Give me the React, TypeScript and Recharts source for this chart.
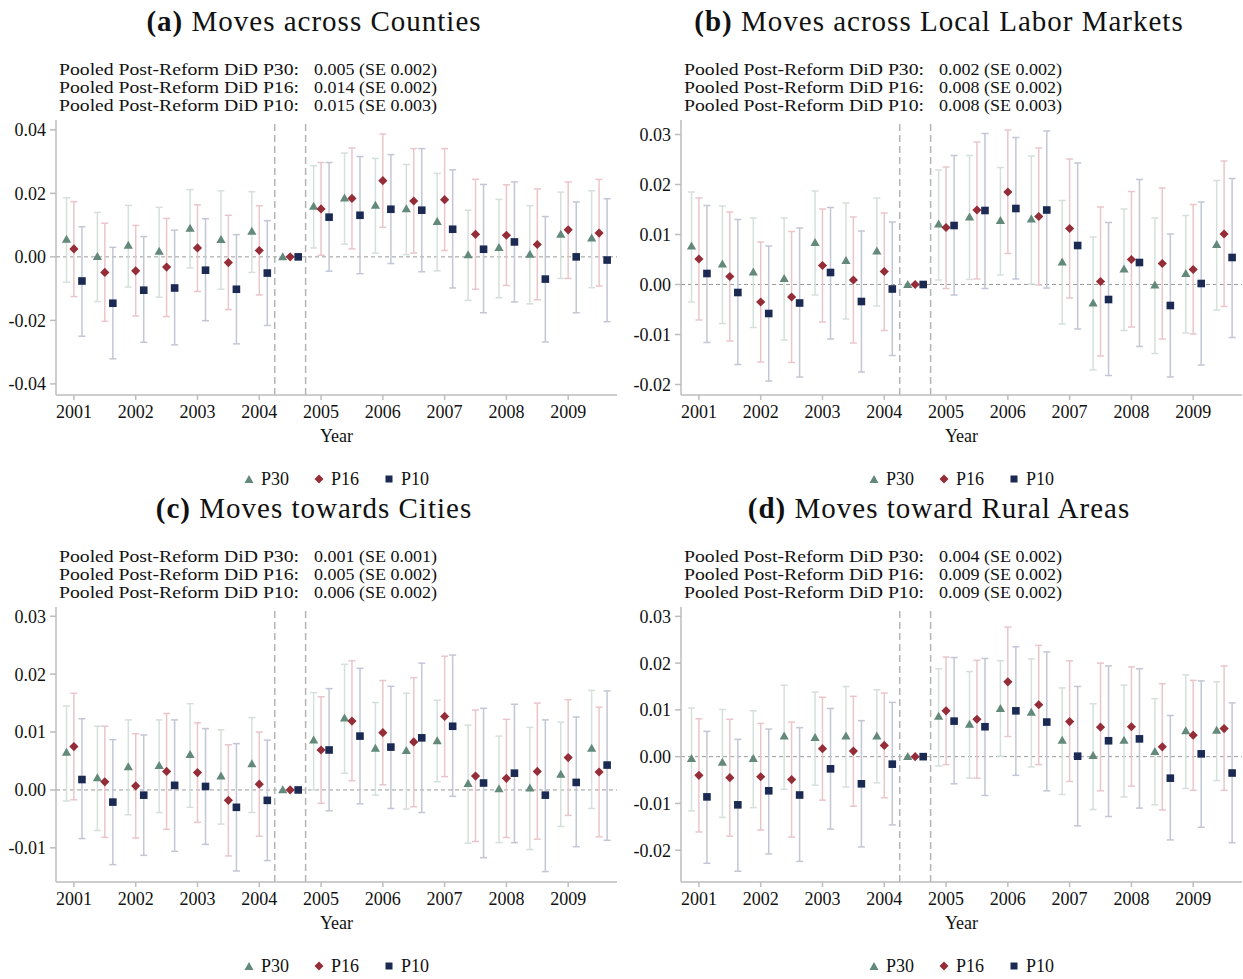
import React from "react";
import {
  ComposedChart,
  XAxis,
  YAxis,
  Scatter,
  ErrorBar,
  ReferenceLine,
} from "recharts";

const periods = [
  2001, 2001.5, 2002, 2002.5, 2003, 2003.5, 2004, 2004.5, 2005, 2005.5, 2006,
  2006.5, 2007, 2007.5, 2008, 2008.5, 2009, 2009.5,
];
const years = [2001, 2002, 2003, 2004, 2005, 2006, 2007, 2008, 2009];

// (a) counties
const countiesP30 = [0.0055, 0.0001, 0.0036, 0.0017, 0.009, 0.0054, 0.008, 0, 0.0159, 0.0185, 0.0162, 0.0151, 0.0111, 0.0006, 0.0029, 0.0008, 0.0071, 0.0059];
const countiesP30Lo = [-0.008, -0.0141, -0.0095, -0.0127, -0.0035, -0.0102, -0.0049, 0, 0.0028, 0.004, 0.0012, 0.0007, -0.0044, -0.0137, -0.0129, -0.0148, -0.0068, -0.0097];
const countiesP30Hi = [0.0186, 0.014, 0.0162, 0.0156, 0.0212, 0.0208, 0.0205, 0, 0.0287, 0.0327, 0.031, 0.0291, 0.0263, 0.0147, 0.0181, 0.0161, 0.0204, 0.0208];
const countiesP16 = [0.0025, -0.0049, -0.0044, -0.0032, 0.0028, -0.0018, 0.002, 0, 0.0151, 0.0184, 0.024, 0.0176, 0.018, 0.0071, 0.0068, 0.0039, 0.0085, 0.0075];
const countiesP16Lo = [-0.0125, -0.0203, -0.0186, -0.0188, -0.0109, -0.0166, -0.012, 0, 0.0005, 0.0025, 0.0093, 0.0012, 0.002, -0.0102, -0.009, -0.0135, -0.0068, -0.0092];
const countiesP16Hi = [0.0174, 0.0106, 0.0099, 0.0121, 0.0164, 0.0131, 0.0161, 0, 0.0297, 0.0343, 0.0387, 0.0341, 0.0341, 0.0244, 0.0227, 0.0214, 0.0236, 0.0244];
const countiesP10 = [-0.0076, -0.0146, -0.0105, -0.0098, -0.0042, -0.0102, -0.0051, 0, 0.0125, 0.0131, 0.015, 0.0147, 0.0087, 0.0024, 0.0047, -0.007, 0, -0.001];
const countiesP10Lo = [-0.025, -0.0321, -0.0269, -0.0277, -0.0201, -0.0274, -0.0216, 0, -0.0045, -0.0053, -0.0021, -0.0047, -0.0098, -0.0176, -0.0142, -0.0268, -0.0176, -0.0204];
const countiesP10Hi = [0.0095, 0.003, 0.0064, 0.0084, 0.012, 0.007, 0.0114, 0, 0.0297, 0.0316, 0.0322, 0.0341, 0.0274, 0.0228, 0.0236, 0.0127, 0.0173, 0.0183];

// (b) local labor markets
const llmP30 = [0.0077, 0.0041, 0.0025, 0.0012, 0.0084, 0.0048, 0.0067, 0, 0.0121, 0.0135, 0.0128, 0.0131, 0.0045, -0.0037, 0.0031, -0.0001, 0.0022, 0.008];
const llmP30Lo = [-0.0035, -0.0078, -0.0086, -0.0111, -0.0021, -0.0069, -0.0043, 0, 0.0009, 0.001, 0.0019, 0.0001, -0.0079, -0.0171, -0.0092, -0.0138, -0.0097, -0.0051];
const llmP30Hi = [0.0185, 0.0157, 0.0133, 0.0133, 0.0187, 0.0163, 0.0173, 0, 0.0229, 0.0258, 0.0234, 0.0257, 0.0168, 0.0095, 0.0151, 0.0133, 0.0138, 0.0208];
const llmP16 = [0.0051, 0.0016, -0.0035, -0.0025, 0.0038, 0.0009, 0.0026, 0, 0.0114, 0.0149, 0.0185, 0.0136, 0.0112, 0.0006, 0.005, 0.0042, 0.003, 0.0101];
const llmP16Lo = [-0.0071, -0.0113, -0.0155, -0.0156, -0.0075, -0.0117, -0.0092, 0, -0.0008, 0.0011, 0.0062, -0.0001, -0.0027, -0.0143, -0.0085, -0.0109, -0.0099, -0.0044];
const llmP16Hi = [0.0173, 0.0145, 0.0085, 0.0106, 0.0151, 0.0135, 0.0143, 0, 0.0235, 0.0285, 0.0309, 0.0273, 0.0251, 0.0155, 0.0186, 0.0193, 0.016, 0.0247];
const llmP10 = [0.0022, -0.0016, -0.0058, -0.0037, 0.0024, -0.0034, -0.0009, 0, 0.0118, 0.0148, 0.0152, 0.0149, 0.0078, -0.003, 0.0044, -0.0042, 0.0002, 0.0054];
const llmP10Lo = [-0.0116, -0.016, -0.0193, -0.0185, -0.0109, -0.0175, -0.0142, 0, -0.0021, -0.0008, 0.0011, -0.0007, -0.0089, -0.0182, -0.0124, -0.0185, -0.0161, -0.0106];
const llmP10Hi = [0.0158, 0.013, 0.0077, 0.0113, 0.0154, 0.0107, 0.0125, 0, 0.0258, 0.0302, 0.0294, 0.0307, 0.0243, 0.0124, 0.021, 0.0101, 0.0165, 0.0212];

// (c) towards cities
const citiesP30 = [0.0065, 0.0021, 0.004, 0.0042, 0.0061, 0.0024, 0.0045, 0, 0.0086, 0.0124, 0.0072, 0.0068, 0.0085, 0.0011, 0.0002, 0.0003, 0.0027, 0.0072];
const citiesP30Lo = [-0.0019, -0.007, -0.0043, -0.0039, -0.003, -0.0059, -0.0039, 0, 0, 0.0029, -0.0009, -0.0033, 0.0014, -0.0092, -0.0091, -0.0103, -0.0063, -0.0032];
const citiesP30Hi = [0.0145, 0.011, 0.0121, 0.0121, 0.0149, 0.0104, 0.0125, 0, 0.0168, 0.0217, 0.0151, 0.0167, 0.0155, 0.0112, 0.0093, 0.0108, 0.0117, 0.0172];
const citiesP16 = [0.0075, 0.0014, 0.0007, 0.0032, 0.003, -0.0018, 0.001, 0, 0.0069, 0.0119, 0.0099, 0.0083, 0.0127, 0.0024, 0.002, 0.0032, 0.0056, 0.0031];
const citiesP16Lo = [-0.0017, -0.0082, -0.0083, -0.0068, -0.0056, -0.0114, -0.008, 0, -0.0023, 0.0016, 0.0009, -0.0029, 0.0023, -0.0089, -0.0082, -0.0085, -0.0044, -0.0081];
const citiesP16Hi = [0.0167, 0.011, 0.0097, 0.0132, 0.0116, 0.0078, 0.01, 0, 0.0161, 0.0223, 0.0189, 0.0194, 0.0231, 0.0138, 0.0122, 0.015, 0.0156, 0.0143];
const citiesP10 = [0.0018, -0.0021, -0.0009, 0.0008, 0.0006, -0.003, -0.0018, 0, 0.0069, 0.0093, 0.0074, 0.009, 0.011, 0.0012, 0.0029, -0.0009, 0.0013, 0.0043];
const citiesP10Lo = [-0.0084, -0.0129, -0.0113, -0.0106, -0.0094, -0.014, -0.0122, 0, -0.0036, -0.0024, -0.0032, -0.0039, -0.0011, -0.0117, -0.0091, -0.0141, -0.0098, -0.0087];
const citiesP10Hi = [0.0123, 0.0087, 0.0095, 0.0121, 0.0106, 0.008, 0.0086, 0, 0.0175, 0.021, 0.0179, 0.0219, 0.0233, 0.0141, 0.0148, 0.0121, 0.0126, 0.0171];

// (d) toward rural areas
const ruralP30 = [-0.0004, -0.0012, -0.0004, 0.0044, 0.0041, 0.0044, 0.0044, 0, 0.0086, 0.0069, 0.0103, 0.0095, 0.0035, 0.0002, 0.0035, 0.0011, 0.0055, 0.0056];
const ruralP30Lo = [-0.0116, -0.013, -0.0109, -0.007, -0.0061, -0.0065, -0.0056, 0, -0.002, -0.0046, 0.0001, -0.0022, -0.0081, -0.0113, -0.0086, -0.0103, -0.0068, -0.0051];
const ruralP30Hi = [0.0104, 0.0101, 0.0098, 0.0153, 0.0138, 0.015, 0.0143, 0, 0.0188, 0.0182, 0.0205, 0.0209, 0.0147, 0.0113, 0.0153, 0.0124, 0.0175, 0.016];
const ruralP16 = [-0.004, -0.0045, -0.0043, -0.0049, 0.0017, 0.0012, 0.0024, 0, 0.0098, 0.008, 0.016, 0.0111, 0.0075, 0.0063, 0.0064, 0.0021, 0.0046, 0.006];
const ruralP16Lo = [-0.0161, -0.017, -0.0157, -0.0172, -0.0093, -0.0106, -0.0088, 0, -0.0017, -0.0046, 0.0043, -0.0017, -0.0053, -0.0073, -0.0063, -0.0114, -0.0072, -0.0072];
const ruralP16Hi = [0.0081, 0.008, 0.0071, 0.0074, 0.0127, 0.0129, 0.0136, 0, 0.0213, 0.0206, 0.0277, 0.0238, 0.0205, 0.02, 0.0192, 0.0156, 0.0163, 0.0194];
const ruralP10 = [-0.0086, -0.0103, -0.0073, -0.0082, -0.0026, -0.0058, -0.0016, 0, 0.0076, 0.0064, 0.0098, 0.0074, 0.0001, 0.0034, 0.0038, -0.0046, 0.0006, -0.0035];
const ruralP10Lo = [-0.0228, -0.0245, -0.0208, -0.0224, -0.0155, -0.0193, -0.0146, 0, -0.0058, -0.0083, -0.004, -0.0073, -0.0148, -0.0128, -0.011, -0.0178, -0.0151, -0.0184];
const ruralP10Hi = [0.0054, 0.0037, 0.0059, 0.0062, 0.0103, 0.0077, 0.0116, 0, 0.0212, 0.021, 0.0235, 0.0224, 0.015, 0.0194, 0.0188, 0.0088, 0.0162, 0.0115];

const statLabels = ["Pooled Post-Reform DiD P30:", "Pooled Post-Reform DiD P16:", "Pooled Post-Reform DiD P10:"];
const countiesStats = ["0.005 (SE 0.002)", "0.014 (SE 0.002)", "0.015 (SE 0.003)"];
const llmStats = ["0.002 (SE 0.002)", "0.008 (SE 0.002)", "0.008 (SE 0.003)"];
const citiesStats = ["0.001 (SE 0.001)", "0.005 (SE 0.002)", "0.006 (SE 0.002)"];
const ruralStats = ["0.004 (SE 0.002)", "0.009 (SE 0.002)", "0.009 (SE 0.002)"];

const FONT = '"Liberation Serif", "Times New Roman", serif';
const C30 = "#62897a";
const C16 = "#942d37";
const C10 = "#1b2a52";
const E30 = "#d6e0db";
const E16 = "#eac6cb";
const E10 = "#c3c6d5";
const AXIS = "#bdbdbd";

const build = (est: number[], lo: number[], hi: number[], off: number) =>
  periods.map((p, i) => ({
    x: p + off,
    y: est[i],
    err: [est[i] - lo[i], hi[i] - est[i]],
  }));

const Tri = (p: any) => (
  <polygon
    points={`${p.cx},${p.cy - 4.6} ${p.cx - 4.6},${p.cy + 3.4} ${p.cx + 4.6},${p.cy + 3.4}`}
    fill={C30}
  />
);
const Dia = (p: any) => (
  <polygon
    points={`${p.cx},${p.cy - 4.6} ${p.cx + 4.6},${p.cy} ${p.cx},${p.cy + 4.6} ${p.cx - 4.6},${p.cy}`}
    fill={C16}
  />
);
const Sq = (p: any) => (
  <rect x={p.cx - 3.8} y={p.cy - 3.8} width={7.6} height={7.6} fill={C10} />
);

type PanelProps = {
  left: number;
  top: number;
  tag: string;
  title: string;
  stats: string[];
  s30: number[][];
  s16: number[][];
  s10: number[][];
  domain: number[];
  yTicks: number[];
};

const Panel = ({ left, top, tag, title, stats, s30, s16, s10, domain, yTicks }: PanelProps) => {
  const d30 = build(s30[0], s30[1], s30[2], -0.12);
  const d16 = build(s16[0], s16[1], s16[2], 0);
  const d10 = build(s10[0], s10[1], s10[2], 0.13);
  const tick = { fill: "#111", fontSize: 18, fontFamily: FONT };
  return (
    <div style={{ position: "absolute", left, top, width: 625, height: 487, fontFamily: FONT, color: "#111" }}>
      <div
        style={{
          position: "absolute",
          top: 7,
          left: 0,
          width: 628,
          textAlign: "center",
          fontSize: 29,
          lineHeight: "29px",
          letterSpacing: 1.0,
          whiteSpace: "nowrap",
        }}
      >
        <b>{tag}</b> {title}
      </div>
      {statLabels.map((s, i) => (
        <React.Fragment key={s}>
          <div
            style={{
              position: "absolute",
              top: 61 + i * 18,
              left: 59,
              fontSize: 16,
              lineHeight: "18px",
              whiteSpace: "nowrap",
              transform: "scaleX(1.23)",
              transformOrigin: "0 50%",
            }}
          >
            {s}
          </div>
          <div
            style={{
              position: "absolute",
              top: 61 + i * 18,
              left: 314,
              fontSize: 16,
              lineHeight: "18px",
              whiteSpace: "nowrap",
              transform: "scaleX(1.125)",
              transformOrigin: "0 50%",
            }}
          >
            {stats[i]}
          </div>
        </React.Fragment>
      ))}
      <div style={{ position: "absolute", top: 110, left: 0 }}>
        <ComposedChart width={625} height={315} margin={{ top: 10, right: 8, bottom: 0, left: 0 }}>
          <XAxis
            type="number"
            dataKey="x"
            domain={[2000.71, 2009.79]}
            ticks={years}
            allowDataOverflow
            interval={0}
            height={30}
            tick={tick}
            tickSize={5}
            tickMargin={5}
            tickLine={{ stroke: AXIS, strokeWidth: 1.5 }}
            axisLine={{ stroke: AXIS, strokeWidth: 1.5 }}
          />
          <YAxis
            type="number"
            dataKey="y"
            domain={domain}
            ticks={yTicks}
            allowDataOverflow
            interval={0}
            width={56}
            tick={tick}
            tickSize={6}
            tickMargin={4}
            tickFormatter={(v: number) => v.toFixed(2)}
            tickLine={{ stroke: AXIS, strokeWidth: 1.5 }}
            axisLine={{ stroke: AXIS, strokeWidth: 1.5 }}
          />
          <ReferenceLine y={0} stroke="#9a9a9a" strokeDasharray="4 3" strokeWidth={1} />
          <ReferenceLine x={2004.25} stroke="#b4b4b4" strokeDasharray="7 4" strokeWidth={1.5} />
          <ReferenceLine x={2004.75} stroke="#b4b4b4" strokeDasharray="7 4" strokeWidth={1.5} />
          <Scatter name="P30" data={d30} shape={Tri} isAnimationActive={false}>
            <ErrorBar dataKey="err" direction="y" width={3.5} stroke={E30} strokeWidth={1.5} isAnimationActive={false} />
          </Scatter>
          <Scatter name="P16" data={d16} shape={Dia} isAnimationActive={false}>
            <ErrorBar dataKey="err" direction="y" width={3.5} stroke={E16} strokeWidth={1.5} isAnimationActive={false} />
          </Scatter>
          <Scatter name="P10" data={d10} shape={Sq} isAnimationActive={false}>
            <ErrorBar dataKey="err" direction="y" width={3.5} stroke={E10} strokeWidth={1.5} isAnimationActive={false} />
          </Scatter>
        </ComposedChart>
      </div>
      <div
        style={{
          position: "absolute",
          top: 427,
          left: 56,
          width: 561,
          textAlign: "center",
          fontSize: 18,
          lineHeight: "18px",
        }}
      >
        Year
      </div>
      <div
        style={{
          position: "absolute",
          top: 470,
          left: 56,
          width: 561,
          display: "flex",
          justifyContent: "center",
          alignItems: "center",
          fontSize: 18,
          lineHeight: "18px",
        }}
      >
        <svg width={10} height={10} style={{ marginRight: 7 }}>
          <polygon points="5,1 9.5,9 0.5,9" fill={C30} />
        </svg>
        <span style={{ marginRight: 25 }}>P30</span>
        <svg width={10} height={10} style={{ marginRight: 7 }}>
          <polygon points="5,0.5 9.5,5 5,9.5 0.5,5" fill={C16} />
        </svg>
        <span style={{ marginRight: 25 }}>P16</span>
        <svg width={10} height={10} style={{ marginRight: 7 }}>
          <rect x={1.5} y={1.5} width={7} height={7} fill={C10} />
        </svg>
        <span>P10</span>
      </div>
    </div>
  );
};

export default function App() {
  return (
    <div style={{ position: "absolute", left: 0, top: 0, width: 1243, height: 979, background: "#fff" }}>
      <Panel
        left={0}
        top={0}
        tag="(a)"
        title="Moves across Counties"
        stats={countiesStats}
        s30={[countiesP30, countiesP30Lo, countiesP30Hi]}
        s16={[countiesP16, countiesP16Lo, countiesP16Hi]}
        s10={[countiesP10, countiesP10Lo, countiesP10Hi]}
        domain={[-0.0435, 0.0431]}
        yTicks={[-0.04, -0.02, 0, 0.02, 0.04]}
      />
      <Panel
        left={625}
        top={0}
        tag="(b)"
        title="Moves across Local Labor Markets"
        stats={llmStats}
        s30={[llmP30, llmP30Lo, llmP30Hi]}
        s16={[llmP16, llmP16Lo, llmP16Hi]}
        s10={[llmP10, llmP10Lo, llmP10Hi]}
        domain={[-0.0221, 0.0329]}
        yTicks={[-0.02, -0.01, 0, 0.01, 0.02, 0.03]}
      />
      <Panel
        left={0}
        top={487}
        tag="(c)"
        title="Moves towards Cities"
        stats={citiesStats}
        s30={[citiesP30, citiesP30Lo, citiesP30Hi]}
        s16={[citiesP16, citiesP16Lo, citiesP16Hi]}
        s10={[citiesP10, citiesP10Lo, citiesP10Hi]}
        domain={[-0.0159, 0.0316]}
        yTicks={[-0.01, 0, 0.01, 0.02, 0.03]}
      />
      <Panel
        left={625}
        top={487}
        tag="(d)"
        title="Moves toward Rural Areas"
        stats={ruralStats}
        s30={[ruralP30, ruralP30Lo, ruralP30Hi]}
        s16={[ruralP16, ruralP16Lo, ruralP16Hi]}
        s10={[ruralP10, ruralP10Lo, ruralP10Hi]}
        domain={[-0.0268, 0.032]}
        yTicks={[-0.02, -0.01, 0, 0.01, 0.02, 0.03]}
      />
    </div>
  );
}
